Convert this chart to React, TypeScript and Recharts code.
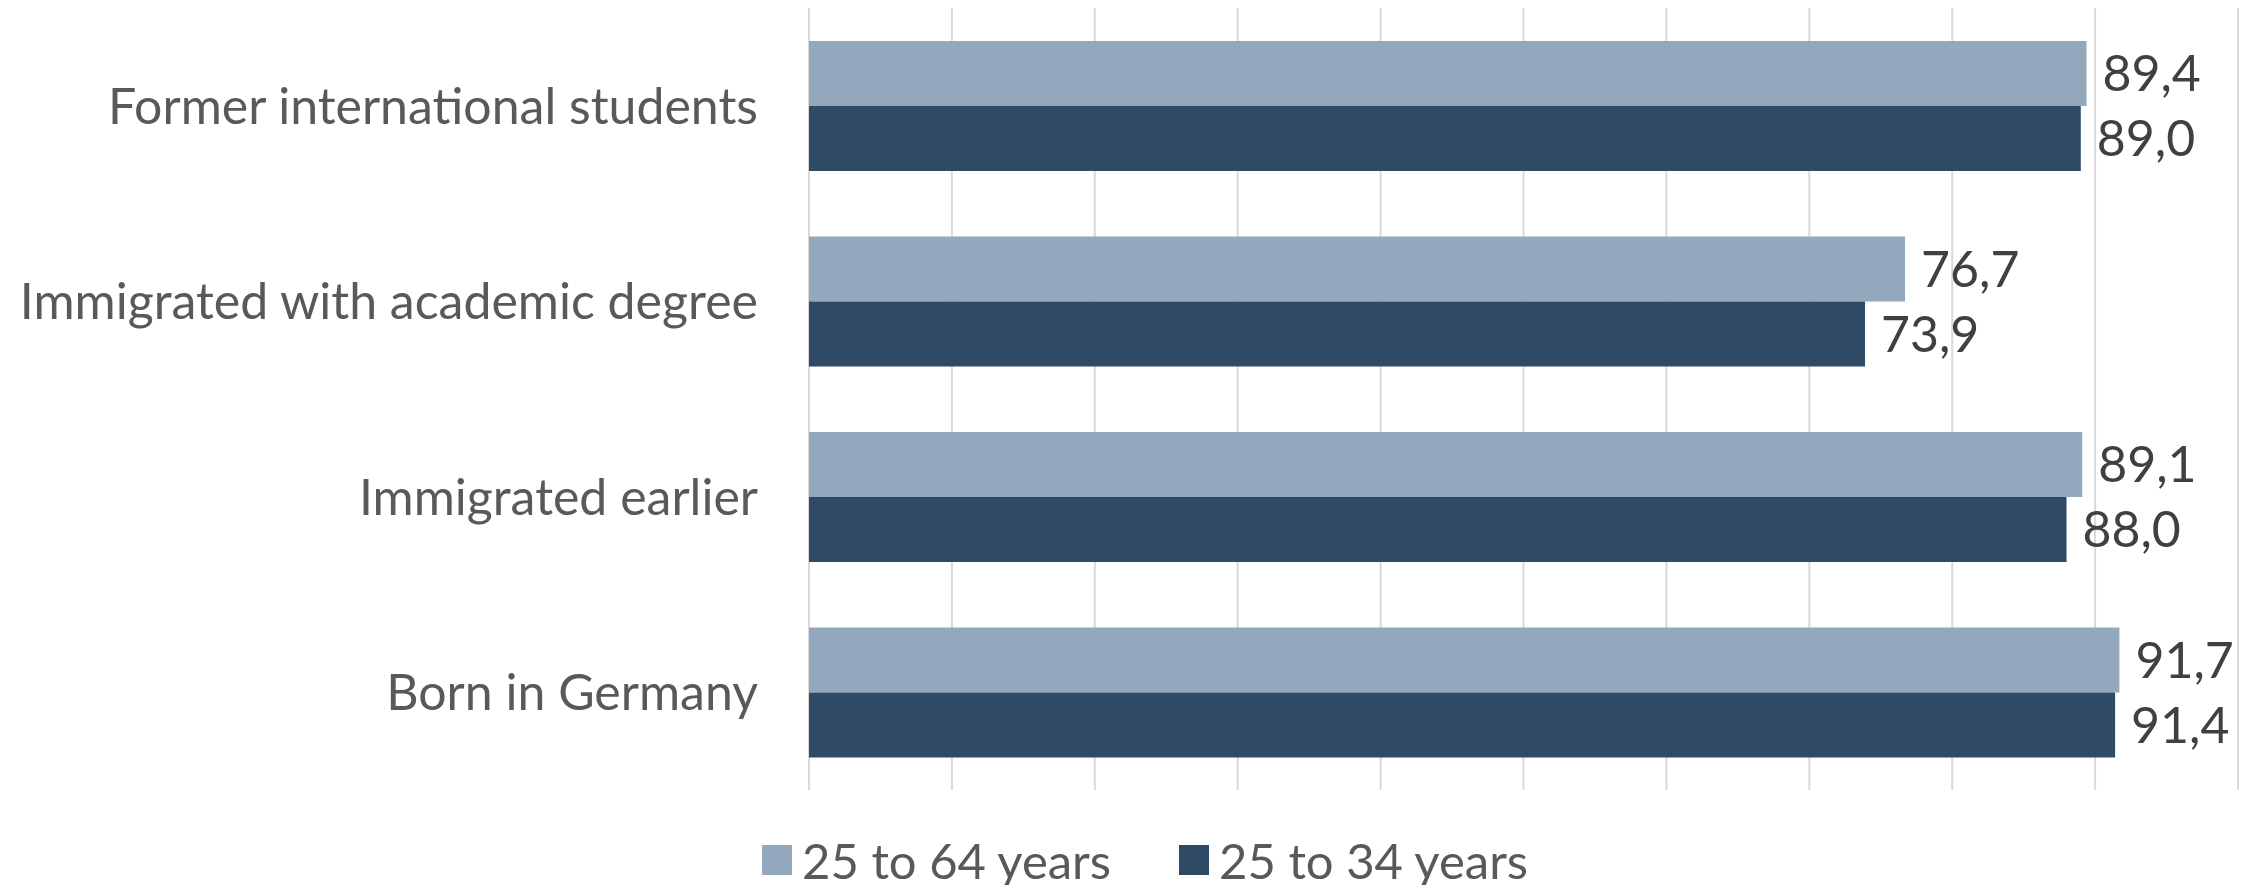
import React from "react";
import { BarChart, Bar, XAxis, YAxis, CartesianGrid, LabelList } from "recharts";

// categories top to bottom
const categories = [
  "Former international students",
  "Immigrated with academic degree",
  "Immigrated earlier",
  "Born in Germany",
];
const ages25to64 = [89.4, 76.7, 89.1, 91.7];
const ages25to34 = [89.0, 73.9, 88.0, 91.4];
const seriesNames = ["25 to 64 years", "25 to 34 years"];
const seriesColors = ["#93A8BC", "#2E4A65"];
const xTicks = [0, 10, 20, 30, 40, 50, 60, 70, 80, 90, 100];

const FONT = "Lato, 'Open Sans', sans-serif";

const chartData = categories.map((name, i) => ({
  name,
  a: ages25to64[i],
  b: ages25to34[i],
}));

const fmt = (v: any) => Number(v).toFixed(1).replace(".", ",");

export default function App() {
  return (
    <div style={{ position: "absolute", left: 0, top: 0, width: 2257, height: 885, background: "#fff", fontFamily: FONT }}>
      <BarChart
        width={2257}
        height={885}
        data={chartData}
        layout="vertical"
        margin={{ top: 8, right: 19, bottom: 95, left: 0 }}
        barGap={0}
        barSize={65}
      >
        <CartesianGrid horizontal={false} stroke="#D9D9D9" strokeWidth={2} />
        <XAxis
          type="number"
          domain={[0, 100]}
          ticks={xTicks}
          interval={0}
          tick={{ fill: "none", fontSize: 1 }}
          axisLine={false}
          tickLine={false}
          height={0}
        />
        <YAxis
          type="category"
          dataKey="name"
          width={809}
          axisLine={false}
          tickLine={false}
          tickMargin={45}
          tick={{ fill: "#595959", fontSize: 50, fontFamily: FONT }}
        />
        <Bar dataKey="a" name={seriesNames[0]} fill={seriesColors[0]} isAnimationActive={false}>
          <LabelList
            dataKey="a"
            position="right"
            offset={16}
            formatter={fmt}
            style={{ fill: "#404040", fontSize: 50, fontFamily: FONT }}
          />
        </Bar>
        <Bar dataKey="b" name={seriesNames[1]} fill={seriesColors[1]} isAnimationActive={false}>
          <LabelList
            dataKey="b"
            position="right"
            offset={16}
            formatter={fmt}
            style={{ fill: "#404040", fontSize: 50, fontFamily: FONT }}
          />
        </Bar>
      </BarChart>

      <div
        style={{
          position: "absolute",
          left: 762,
          top: 834,
          display: "flex",
          alignItems: "center",
          gap: 68,
          color: "#595959",
          fontSize: 49,
          lineHeight: "52px",
        }}
      >
        {seriesNames.map((n, i) => (
          <span key={n} style={{ display: "flex", alignItems: "center", gap: 10 }}>
            <span style={{ width: 30, height: 30, background: seriesColors[i], display: "inline-block" }} />
            {n}
          </span>
        ))}
      </div>
    </div>
  );
}
